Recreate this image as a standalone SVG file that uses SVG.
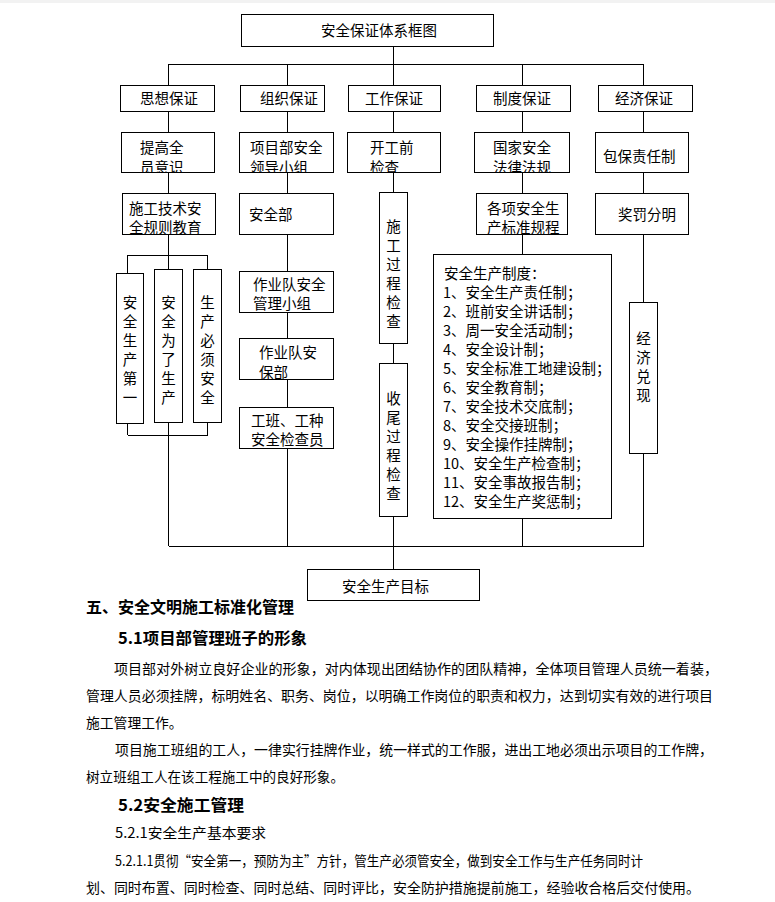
<svg xmlns="http://www.w3.org/2000/svg" width="775" height="902" viewBox="0 0 775 902">
<style>
.bg{fill:#ffffff}
.box{fill:#ffffff;stroke:#000000;stroke-width:1;shape-rendering:crispEdges}
.ln{stroke:#000000;stroke-width:1;fill:none;shape-rendering:crispEdges}
.t{font-family:"Noto Sans CJK SC","Liberation Sans",sans-serif;font-size:14.5px;fill:#000000}
.tm{text-anchor:middle}
.h{font-family:"Noto Sans CJK SC","Liberation Sans",sans-serif;font-size:16px;font-weight:bold;fill:#000000}
.p{font-family:"Noto Sans CJK SC","Liberation Sans",sans-serif;font-size:13.8px;fill:#000000}
</style>
<defs>
<clipPath id="c1"><rect x="121" y="132" width="93" height="40"/></clipPath>
<clipPath id="c2"><rect x="239" y="132" width="94" height="40"/></clipPath>
<clipPath id="c3"><rect x="347" y="132" width="93" height="40"/></clipPath>
<clipPath id="c4"><rect x="474" y="132" width="95" height="40"/></clipPath>
<clipPath id="c5"><rect x="122" y="193" width="93" height="41"/></clipPath>
<clipPath id="c6"><rect x="476" y="193" width="91" height="41"/></clipPath>
<clipPath id="c7"><rect x="239" y="407" width="94" height="41"/></clipPath>
</defs>
<rect class="bg" x="0" y="0" width="775" height="902"/>
<rect x="0" y="0" width="775" height="3" fill="#f2f2f2"/>

<g id="connectors">
<path class="ln" d="M393.5 46V85 M168.5 64.5H643.5 M168.5 64V85 M287.5 64V85 M522.5 64V85 M643.5 64V85"/>
<path class="ln" d="M168.5 111V132 M287.5 111V132 M393.5 111V132 M522.5 111V132 M643.5 111V132"/>
<path class="ln" d="M168.5 172V193 M287.5 172V193 M393.5 172V192 M522.5 172V193 M643.5 172V193"/>
<path class="ln" d="M168.5 234V255 M127.5 255.5H207.5 M127.5 255V273 M168.5 255V269 M207.5 255V269"/>
<path class="ln" d="M127.5 423V435 M168.5 422V435 M207.5 422V435 M127.5 435.5H207.5 M168.5 435V546"/>
<path class="ln" d="M287.5 234V271 M287.5 312V338 M287.5 379V407 M287.5 448V546"/>
<path class="ln" d="M393.5 343V363 M393.5 516V569"/>
<path class="ln" d="M522.5 234V254 M522.5 518V546"/>
<path class="ln" d="M643.5 234V302 M643.5 453V546"/>
<path class="ln" d="M168.5 546.5H643.5"/>
</g>

<g id="n-title"><rect class="box" x="241.5" y="14.5" width="252" height="32"/><text class="t" x="321" y="36">安全保证体系框图</text></g>

<g id="n-sixiang"><rect class="box" x="120.5" y="85.5" width="94" height="26"/><text class="t" x="140" y="104">思想保证</text></g>
<g id="n-zuzhi"><rect class="box" x="240.5" y="85.5" width="84" height="26"/><text class="t" x="260" y="104">组织保证</text></g>
<g id="n-gongzuo"><rect class="box" x="348.5" y="85.5" width="92" height="26"/><text class="t" x="365" y="104">工作保证</text></g>
<g id="n-zhidu"><rect class="box" x="476.5" y="85.5" width="94" height="26"/><text class="t" x="493" y="104">制度保证</text></g>
<g id="n-jingji"><rect class="box" x="598.5" y="85.5" width="94" height="26"/><text class="t" x="615" y="104">经济保证</text></g>

<g id="n-tigao"><rect class="box" x="121.5" y="132.5" width="93" height="40"/><g clip-path="url(#c1)"><text class="t" x="140" y="153">提高全</text><text class="t" x="140" y="173">员意识</text></g></g>
<g id="n-xiangmubu"><rect class="box" x="239.5" y="132.5" width="94" height="40"/><g clip-path="url(#c2)"><text class="t" x="250" y="153">项目部安全</text><text class="t" x="250" y="173">领导小组</text></g></g>
<g id="n-kaigong"><rect class="box" x="347.5" y="132.5" width="93" height="40"/><g clip-path="url(#c3)"><text class="t" x="370" y="153">开工前</text><text class="t" x="370" y="173">检查</text></g></g>
<g id="n-guojia"><rect class="box" x="474.5" y="132.5" width="95" height="40"/><g clip-path="url(#c4)"><text class="t" x="493" y="153">国家安全</text><text class="t" x="493" y="173">法律法规</text></g></g>
<g id="n-baobao"><rect class="box" x="595.5" y="132.5" width="93" height="40"/><text class="t" x="603" y="162">包保责任制</text></g>

<g id="n-shigongjishu"><rect class="box" x="122.5" y="193.5" width="93" height="41"/><g clip-path="url(#c5)"><text class="t" x="129" y="214">施工技术安</text><text class="t" x="129" y="233">全规则教育</text></g></g>
<g id="n-anquanbu"><rect class="box" x="239.5" y="193.5" width="94" height="41"/><text class="t" x="249" y="220">安全部</text></g>
<g id="n-gexiang"><rect class="box" x="476.5" y="193.5" width="91" height="41"/><g clip-path="url(#c6)"><text class="t" x="487" y="214">各项安全生</text><text class="t" x="487" y="233">产标准规程</text></g></g>
<g id="n-jiangfa"><rect class="box" x="595.5" y="193.5" width="93" height="41"/><text class="t" x="618" y="220">奖罚分明</text></g>

<g id="n-shigongguocheng"><rect class="box" x="379.5" y="192.5" width="28" height="151"/>
<text class="t tm" x="393.5" y="232">施</text><text class="t tm" x="393.5" y="251">工</text><text class="t tm" x="393.5" y="270">过</text><text class="t tm" x="393.5" y="289">程</text><text class="t tm" x="393.5" y="308">检</text><text class="t tm" x="393.5" y="327">查</text></g>

<g id="n-anquandiyi"><rect class="box" x="116.5" y="273.5" width="27" height="150"/>
<text class="t tm" x="130" y="308">安</text><text class="t tm" x="130" y="327">全</text><text class="t tm" x="130" y="346">生</text><text class="t tm" x="130" y="365">产</text><text class="t tm" x="130" y="384">第</text><text class="t tm" x="130" y="403">一</text></g>
<g id="n-anquanweile"><rect class="box" x="154.5" y="269.5" width="28" height="153"/>
<text class="t tm" x="168.5" y="308">安</text><text class="t tm" x="168.5" y="327">全</text><text class="t tm" x="168.5" y="346">为</text><text class="t tm" x="168.5" y="365">了</text><text class="t tm" x="168.5" y="384">生</text><text class="t tm" x="168.5" y="403">产</text></g>
<g id="n-shengchanbixu"><rect class="box" x="193.5" y="269.5" width="28" height="153"/>
<text class="t tm" x="207.5" y="308">生</text><text class="t tm" x="207.5" y="327">产</text><text class="t tm" x="207.5" y="346">必</text><text class="t tm" x="207.5" y="365">须</text><text class="t tm" x="207.5" y="384">安</text><text class="t tm" x="207.5" y="403">全</text></g>

<g id="n-zuoyedui"><rect class="box" x="239.5" y="271.5" width="94" height="41"/><text class="t" x="253" y="290">作业队安全</text><text class="t" x="253" y="309">管理小组</text></g>
<g id="n-anbaobu"><rect class="box" x="239.5" y="338.5" width="94" height="41"/><text class="t" x="259" y="358">作业队安</text><text class="t" x="259" y="378">保部</text></g>
<g id="n-gongban"><rect class="box" x="239.5" y="407.5" width="94" height="41"/><g clip-path="url(#c7)"><text class="t" x="251" y="426">工班、工种</text><text class="t" x="251" y="445">安全检查员</text></g></g>

<g id="n-shouwei"><rect class="box" x="379.5" y="363.5" width="28" height="153"/>
<text class="t tm" x="393.5" y="404">收</text><text class="t tm" x="393.5" y="423">尾</text><text class="t tm" x="393.5" y="442">过</text><text class="t tm" x="393.5" y="461">程</text><text class="t tm" x="393.5" y="480">检</text><text class="t tm" x="393.5" y="499">查</text></g>

<g id="n-zhidulist"><rect class="box" x="433.5" y="254.5" width="178" height="264"/>
<text class="t" x="444" y="279">安全生产制度：</text>
<text class="t" x="443" y="298">1、安全生产责任制；</text>
<text class="t" x="443" y="317">2、班前安全讲话制；</text>
<text class="t" x="443" y="336">3、周一安全活动制；</text>
<text class="t" x="443" y="355">4、安全设计制；</text>
<text class="t" x="443" y="374">5、安全标准工地建设制；</text>
<text class="t" x="443" y="393">6、安全教育制；</text>
<text class="t" x="443" y="412">7、安全技术交底制；</text>
<text class="t" x="443" y="431">8、安全交接班制；</text>
<text class="t" x="443" y="450">9、安全操作挂牌制；</text>
<text class="t" x="443" y="469">10、安全生产检查制；</text>
<text class="t" x="443" y="488">11、安全事故报告制；</text>
<text class="t" x="443" y="507">12、安全生产奖惩制；</text></g>

<g id="n-duixian"><rect class="box" x="629.5" y="302.5" width="28" height="151"/>
<text class="t tm" x="643.5" y="344">经</text><text class="t tm" x="643.5" y="363">济</text><text class="t tm" x="643.5" y="382">兑</text><text class="t tm" x="643.5" y="401">现</text></g>

<g id="n-mubiao"><rect class="box" x="307.5" y="569.5" width="172" height="31"/><text class="t" x="342" y="592">安全生产目标</text></g>

<g id="doc-text">
<text class="h" x="86" y="613" textLength="208" lengthAdjust="spacingAndGlyphs">五、安全文明施工标准化管理</text>
<text class="h" x="118" y="644" textLength="189" lengthAdjust="spacingAndGlyphs">5.1项目部管理班子的形象</text>
<text class="p" x="114" y="674" textLength="604" lengthAdjust="spacingAndGlyphs">项目部对外树立良好企业的形象，对内体现出团结协作的团队精神，全体项目管理人员统一着装，</text>
<text class="p" x="86" y="701" textLength="627" lengthAdjust="spacingAndGlyphs">管理人员必须挂牌，标明姓名、职务、岗位，以明确工作岗位的职责和权力，达到切实有效的进行项目</text>
<text class="p" x="86" y="728">施工管理工作。</text>
<text class="p" x="115" y="755" textLength="598" lengthAdjust="spacingAndGlyphs">项目施工班组的工人，一律实行挂牌作业，统一样式的工作服，进出工地必须出示项目的工作牌，</text>
<text class="p" x="86" y="782" textLength="258" lengthAdjust="spacingAndGlyphs">树立班组工人在该工程施工中的良好形象。</text>
<text class="h" x="118" y="811" textLength="126" lengthAdjust="spacingAndGlyphs">5.2安全施工管理</text>
<text class="p" x="115" y="838" textLength="151" lengthAdjust="spacingAndGlyphs">5.2.1安全生产基本要求</text>
<text class="p" x="115" y="866" textLength="528" lengthAdjust="spacingAndGlyphs">5.2.1.1贯彻“安全第一，预防为主”方针，管生产必须管安全，做到安全工作与生产任务同时计</text>
<text class="p" x="86" y="893" textLength="614" lengthAdjust="spacingAndGlyphs">划、同时布置、同时检查、同时总结、同时评比，安全防护措施提前施工，经验收合格后交付使用。</text>
</g>
</svg>
